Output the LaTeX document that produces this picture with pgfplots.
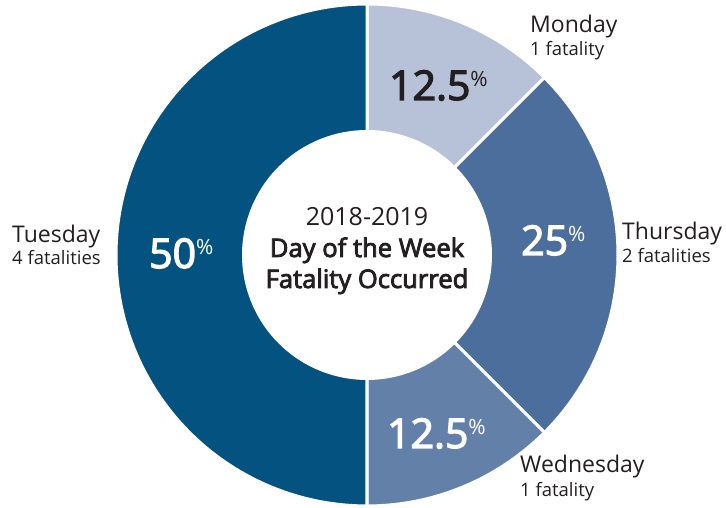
\documentclass[border=0pt]{standalone}
\usepackage{pgfplots}
\usepackage{pgfplotstable}
\pgfplotsset{compat=1.18}
\usepackage{fontspec}
\setmainfont{Open Sans}
\newfontfamily\semib{Open Sans}[FakeBold=3.2]
\definecolor{cMon}{HTML}{B7C2D9}
\definecolor{cThu}{HTML}{4B6E9C}
\definecolor{cWed}{HTML}{6280A8}
\definecolor{cTue}{HTML}{03527F}
\definecolor{txt}{HTML}{231F20}
\pgfplotstableread{
day n
Monday 1
Thursday 2
Wednesday 1
Tuesday 4
}\fatal
\pgfplotstablegetelem{0}{n}\of\fatal \let\nA\pgfplotsretval
\pgfplotstablegetelem{1}{n}\of\fatal \let\nB\pgfplotsretval
\pgfplotstablegetelem{2}{n}\of\fatal \let\nC\pgfplotsretval
\pgfplotstablegetelem{3}{n}\of\fatal \let\nD\pgfplotsretval
\pgfmathsetmacro\tot{\nA+\nB+\nC+\nD}
\pgfmathsetmacro\aA{90}
\pgfmathsetmacro\aB{\aA-360*\nA/\tot}
\pgfmathsetmacro\aC{\aB-360*\nB/\tot}
\pgfmathsetmacro\aD{\aC-360*\nC/\tot}
\pgfmathsetmacro\aE{\aD-360*\nD/\tot}
\newcommand\pct[2]{{\fontsize{41}{41}\selectfont\semib #1}\raisebox{13.5pt}{\fontsize{21}{21}\selectfont\%}}
\begin{document}
\begin{tikzpicture}
\begin{axis}[width=726pt,height=506pt,scale only axis,
  xmin=0,xmax=726,ymin=0,ymax=506,hide axis,clip=false]
\def\cx{367}\def\cy{251}\def\R{251}\def\r{125}
\path (axis cs:0,0) rectangle (axis cs:726,506);
\addplot[fill=cMon,draw=white,line width=3pt,domain=\aB:\aA,samples=40,variable=\t] ({\cx+\R*cos(\t)},{\cy+\R*sin(\t)}) -- (axis cs:\cx,\cy) -- cycle;
\addplot[fill=cThu,draw=white,line width=3pt,domain=\aC:\aB,samples=60,variable=\t] ({\cx+\R*cos(\t)},{\cy+\R*sin(\t)}) -- (axis cs:\cx,\cy) -- cycle;
\addplot[fill=cWed,draw=white,line width=3pt,domain=\aD:\aC,samples=40,variable=\t] ({\cx+\R*cos(\t)},{\cy+\R*sin(\t)}) -- (axis cs:\cx,\cy) -- cycle;
\addplot[fill=cTue,draw=white,line width=3pt,domain=\aE:\aD,samples=120,variable=\t] ({\cx+\R*cos(\t)},{\cy+\R*sin(\t)}) -- (axis cs:\cx,\cy) -- cycle;
\addplot[fill=white,draw=none,domain=0:360,samples=180,variable=\t] ({\cx+\r*cos(\t)},{\cy+\r*sin(\t)}) -- cycle;
% percentages
\node[anchor=base west,text=txt,inner sep=0pt] at (axis cs:389,406) {\pct{12.5}{}};
\node[anchor=base west,text=white,inner sep=0pt] at (axis cs:521,251) {\pct{25}{}};
\node[anchor=base west,text=white,inner sep=0pt] at (axis cs:387,58) {\pct{12.5}{}};
\node[anchor=base west,text=white,inner sep=0pt] at (axis cs:149,238) {\pct{50}{}};
% outer labels
\tikzset{lab/.style={anchor=base west,text=txt,inner sep=0pt,align=left}}
\node[lab] at (axis cs:530,473) {\fontsize{23}{23}\selectfont Monday};
\node[lab] at (axis cs:530,450) {\fontsize{18.5}{18.5}\selectfont 1 fatality};
\node[lab] at (axis cs:622,266) {\fontsize{23}{23}\selectfont Thursday};
\node[lab] at (axis cs:622,243) {\fontsize{18.5}{18.5}\selectfont 2 fatalities};
\node[lab] at (axis cs:12,263) {\fontsize{23}{23}\selectfont Tuesday};
\node[lab] at (axis cs:12,241) {\fontsize{18.5}{18.5}\selectfont 4 fatalities};
\node[lab] at (axis cs:520,33) {\fontsize{23}{23}\selectfont Wednesday};
\node[lab] at (axis cs:520,9) {\fontsize{18.5}{18.5}\selectfont 1 fatality};
% center
\node[anchor=base,text=txt,inner sep=0pt] at (axis cs:367,280) {\fontsize{25}{25}\selectfont 2018-2019};
\node[anchor=base,text=txt,inner sep=0pt] at (axis cs:367,249) {\fontsize{25.6}{25.6}\selectfont\semib Day of the Week};
\node[anchor=base,text=txt,inner sep=0pt] at (axis cs:367,218) {\fontsize{25.6}{25.6}\selectfont\semib Fatality Occurred};
\end{axis}
\end{tikzpicture}
\end{document}
